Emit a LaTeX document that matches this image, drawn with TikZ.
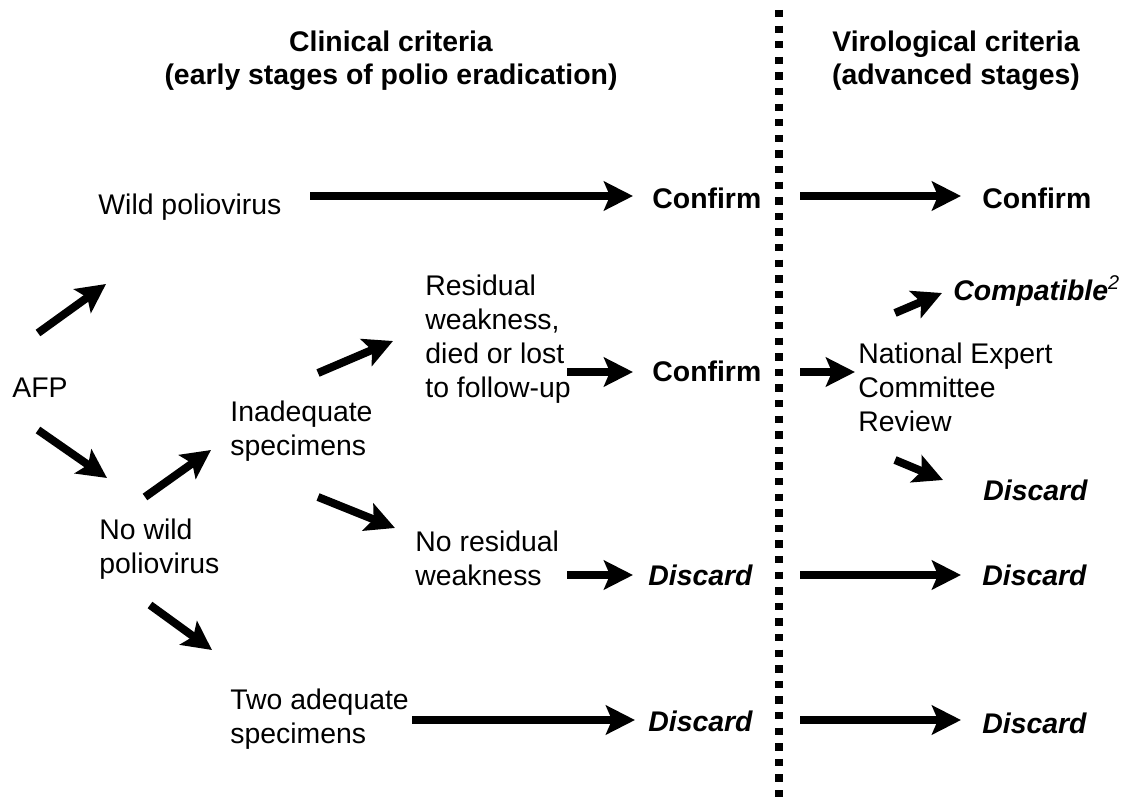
\documentclass[tikz,border=0pt]{standalone}
\usepackage{fontspec}
\setmainfont{Liberation Sans}
\usetikzlibrary{arrows.meta}

\begin{document}
\begin{tikzpicture}[x=0.5pt,y=-0.5pt]
\tikzstyle{lbl}=[anchor=base west,inner sep=0pt,align=left,font=\fontsize{14.2}{17}\selectfont]
\tikzstyle{head}=[lbl,anchor=base,align=center,font=\fontsize{14.2}{17}\selectfont\bfseries]
\tikzstyle{res}=[lbl,font=\fontsize{14.2}{17}\selectfont\bfseries]
\tikzstyle{resit}=[lbl,font=\fontsize{14.2}{17}\selectfont\bfseries\itshape]
\tikzstyle{arr}=[line width=4pt,-{Stealth[length=14.5pt,width=14.5pt,inset=3pt]}]
\useasboundingbox (0,0) rectangle (1123,797);
% headings (base = last line)
\node[head] (clin) at (391,85) {Clinical criteria\\(early stages of polio eradication)};
\node[head] (viro) at (956,85) {Virological criteria\\(advanced stages)};
% clinical side
\node[lbl] (afp) at (12,397) {AFP};
\node[lbl] (wild) at (98,214) {Wild poliovirus};
\node[lbl] (nowild) at (99,573) {No wild\\poliovirus};
\node[lbl] (inad) at (230,455) {Inadequate\\specimens};
\node[lbl] (two) at (230,743) {Two adequate\\specimens};
\node[lbl] (resid) at (425,397) {Residual\\weakness,\\died or lost\\to follow-up};
\node[lbl] (nores) at (415,585) {No residual\\weakness};
\node[res] (conf1) at (652,208) {Confirm};
\node[res] (conf2) at (652,381) {Confirm};
\node[resit] (disc1) at (648,585) {Discard};
\node[resit] (disc2) at (648,731) {Discard};
% virological side
\node[res] (conf3) at (982,208) {Confirm};
\node[lbl] (nec) at (858,431) {National Expert\\Committee\\Review};
\node[resit] (compat) at (953,300) {Compatible\textsuperscript{\mdseries 2}};
\node[resit] (disc3) at (983,500) {Discard};
\node[resit] (disc4) at (982,585) {Discard};
\node[resit] (disc5) at (982,733) {Discard};
% arrow ends
\coordinate (a1) at (38,333);  \coordinate (b1) at (106,284);
\coordinate (a2) at (38,430);  \coordinate (b2) at (107,478);
\coordinate (a3) at (145,497); \coordinate (b3) at (211,450);
\coordinate (a4) at (150,605); \coordinate (b4) at (212,650);
\coordinate (a5) at (318,373); \coordinate (b5) at (393,341);
\coordinate (a6) at (318,497); \coordinate (b6) at (395,528);
\coordinate (a7) at (310,196); \coordinate (b7) at (633,196);
\coordinate (a8) at (567,372); \coordinate (b8) at (633,372);
\coordinate (a9) at (567,575); \coordinate (b9) at (633,575);
\coordinate (a10) at (412,720); \coordinate (b10) at (635,720);
\coordinate (c1) at (800,196); \coordinate (d1) at (961,196);
\coordinate (c2) at (800,372); \coordinate (d2) at (855,372);
\coordinate (c3) at (895,313); \coordinate (d3) at (942,293);
\coordinate (c4) at (895,460); \coordinate (d4) at (943,480);
\coordinate (c5) at (800,575); \coordinate (d5) at (961,575);
\coordinate (c6) at (800,720); \coordinate (d6) at (961,720);
\path[arr]
    (a1) edge (b1)
    (a2) edge (b2)
    (a3) edge (b3)
    (a4) edge (b4)
    (a5) edge (b5)
    (a6) edge (b6)
    (a7) edge (b7)
    (a8) edge (b8)
    (a9) edge (b9)
    (a10) edge (b10);
\path[arr]
    (c1) edge (d1)
    (c2) edge (d2)
    (c3) edge (d3)
    (c4) edge (d4)
    (c5) edge (d5)
    (c6) edge (d6);
% divider
\draw[line width=3.65pt,dash pattern=on 3.65pt off 4.15pt] (779,10) -- (779,797);
\end{tikzpicture}
\end{document}
